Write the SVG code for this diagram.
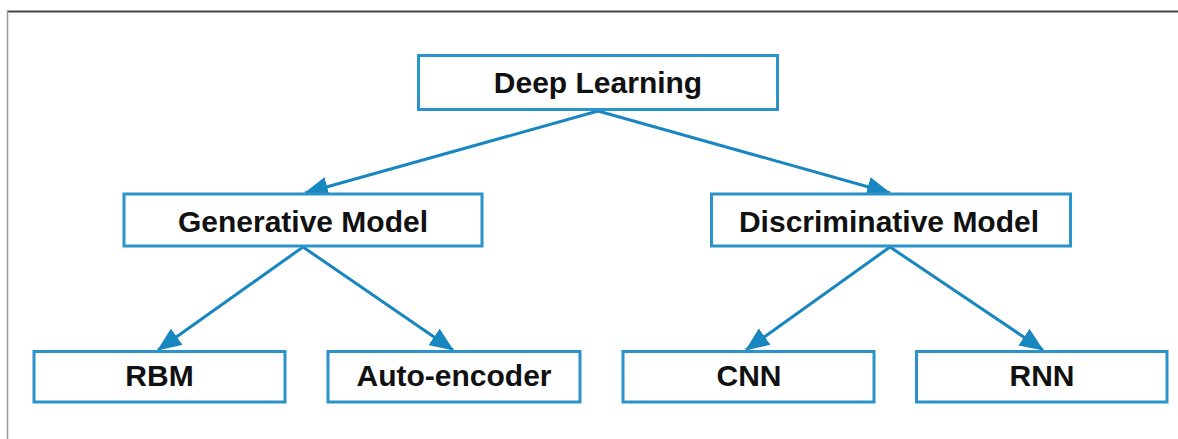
<svg xmlns="http://www.w3.org/2000/svg" width="1178" height="439" viewBox="0 0 1178 439">
  <style>
    .box { fill: #ffffff; stroke: #2a93c9; stroke-width: 3; }
    .label { font-family: "Liberation Sans", Arial, sans-serif; font-weight: bold; font-size: 30px; fill: #111111; text-anchor: middle; }
    .edge { stroke: #1886bf; stroke-width: 3; fill: none; marker-end: url(#arrow); }
  </style>
  <defs>
    <marker id="arrow" markerUnits="userSpaceOnUse" markerWidth="24" markerHeight="20" viewBox="0 0 24 20" refX="23" refY="10" orient="auto">
      <path d="M0,0 L24,10 L0,20 Z" fill="#1886bf"/>
    </marker>
  </defs>

  <rect x="0" y="0" width="1178" height="439" fill="#ffffff"/>
  <!-- frame -->
  <line x1="7" y1="11.5" x2="1178" y2="11.5" stroke="#444444" stroke-width="2"/>
  <line x1="7.5" y1="11" x2="7.5" y2="439" stroke="#9a9a9a" stroke-width="1.5"/>

  <g id="connectors">
    <line class="edge" x1="598" y1="111" x2="305" y2="193"/>
    <line class="edge" x1="598" y1="111" x2="890" y2="193"/>
    <line class="edge" x1="303" y1="247" x2="158" y2="350"/>
    <line class="edge" x1="303" y1="247" x2="453" y2="350"/>
    <line class="edge" x1="890" y1="247" x2="746" y2="350"/>
    <line class="edge" x1="890" y1="247" x2="1043" y2="350"/>
  </g>

  <g id="deep-learning">
    <rect class="box" x="418.5" y="55.5" width="359" height="54"/>
    <text class="label" x="598" y="93">Deep Learning</text>
  </g>
  <g id="generative-model">
    <rect class="box" x="124" y="194" width="358" height="52"/>
    <text class="label" x="303" y="231.5">Generative Model</text>
  </g>
  <g id="discriminative-model">
    <rect class="box" x="711.5" y="194" width="359" height="52"/>
    <text class="label" x="889" y="231.5">Discriminative Model</text>
  </g>
  <g id="rbm">
    <rect class="box" x="34" y="351.5" width="251" height="50.5"/>
    <text class="label" x="159.5" y="386">RBM</text>
  </g>
  <g id="auto-encoder">
    <rect class="box" x="328" y="351.5" width="252" height="50.5"/>
    <text class="label" x="454" y="386">Auto-encoder</text>
  </g>
  <g id="cnn">
    <rect class="box" x="623" y="351.5" width="251" height="50.5"/>
    <text class="label" x="749" y="386">CNN</text>
  </g>
  <g id="rnn">
    <rect class="box" x="916.5" y="351.5" width="250.5" height="50.5"/>
    <text class="label" x="1042" y="386">RNN</text>
  </g>
</svg>
